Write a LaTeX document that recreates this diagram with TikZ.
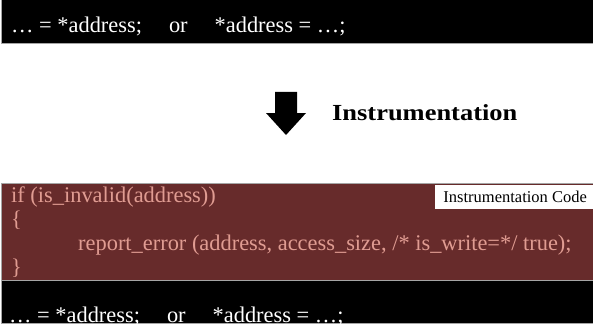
\documentclass[tikz,border=0pt]{standalone}
\usepackage{fontspec}
\usepackage{graphicx}
\setmainfont{Liberation Serif}
\definecolor{codered}{RGB}{103,43,43}
\definecolor{codepink}{RGB}{224,156,146}
\definecolor{edgegray}{RGB}{165,165,165}
\begin{document}
\begin{tikzpicture}[x=1pt,y=-1pt,
  barbox/.style={fill=black,draw=edgegray,line width=0.8pt},
  redbox/.style={fill=codered,draw=edgegray,line width=0.8pt},
  codetext/.style={anchor=base west,inner sep=0pt,font=\fontsize{22.4}{22.4}\selectfont},
  tagbox/.style={fill=white,draw=none,inner sep=0pt,anchor=north west,
    minimum width=160pt,minimum height=24pt,font=\fontsize{16.5}{16.5}\selectfont},
  bigarrow/.style={fill=black}
]
\useasboundingbox (0,0) rectangle (593,326);
% top bar
\draw[barbox] (1.5,-2) rectangle (596,43.5);
\node[codetext,text=white] (toptext) at (11,32.5) {… = *address;\hspace{27pt}or\hspace{27pt}*address = …;};
% arrow and label
\fill[bigarrow] (275,92) -- (297,92) -- (297,113) -- (306,113) -- (286,135) -- (266,113) -- (275,113) -- cycle;
\node[anchor=base west,inner sep=0pt,font=\bfseries\fontsize{23}{23}\selectfont] (instr) at (332,121) {\scalebox{1.15}[1]{Instrumentation}};
% red instrumentation box
\draw[redbox] (1.5,183) rectangle (596,280);
\node[tagbox] (tag) at (435,184.5) {Instrumentation Code};
\node[codetext,text=codepink] (l1) at (11,202) {if (is\_invalid(address))};
\node[codetext,text=codepink] (l2) at (11,226) {\{};
\node[codetext,text=codepink] (l3) at (78,250) {report\_error (address, access\_size, /* is\_write=*/ true);};
\node[codetext,text=codepink] (l4) at (11,274) {\}};
% bottom bar
\draw[barbox] (1.5,280) rectangle (596,323.5);
\begin{scope}
\clip (1.9,280) rectangle (596,323.1);
\node[codetext,text=white] (bottext) at (9,322) {… = *address;\hspace{27pt}or\hspace{27pt}*address = …;};
\end{scope}
\end{tikzpicture}
\end{document}
